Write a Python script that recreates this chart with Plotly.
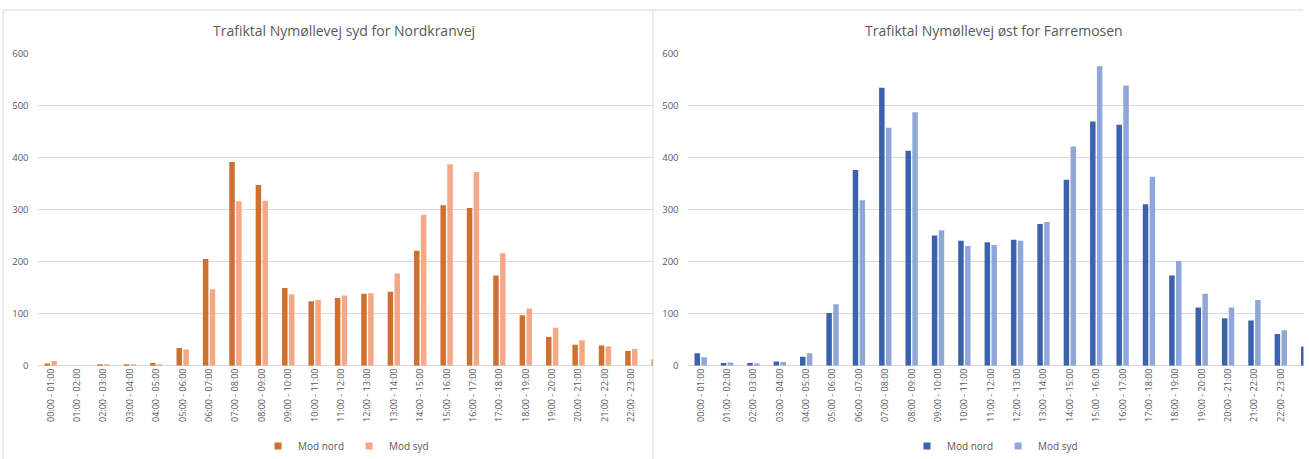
import plotly.graph_objects as go

# ---------------- data ----------------
hours = [
    "00:00 - 01:00", "01:00 - 02:00", "02:00 - 03:00", "03:00 - 04:00",
    "04:00 - 05:00", "05:00 - 06:00", "06:00 - 07:00", "07:00 - 08:00",
    "08:00 - 09:00", "09:00 - 10:00", "10:00 - 11:00", "11:00 - 12:00",
    "12:00 - 13:00", "13:00 - 14:00", "14:00 - 15:00", "15:00 - 16:00",
    "16:00 - 17:00", "17:00 - 18:00", "18:00 - 19:00", "19:00 - 20:00",
    "20:00 - 21:00", "21:00 - 22:00", "22:00 - 23:00", "23:00 - 24:00",
]

# Trafiktal Nymøllevej syd for Nordkranvej
left_nord = [4, 0, 2, 2, 5, 34, 205, 391, 347, 149, 124, 130,
             138, 142, 221, 308, 303, 173, 97, 55, 40, 39, 28, 12]
left_syd = [9, 0, 1, 1, 3, 31, 147, 316, 317, 137, 126, 135,
            139, 177, 290, 387, 372, 216, 110, 73, 49, 37, 32, 10]

# Trafiktal Nymøllevej øst for Farremosen
right_nord = [24, 5, 5, 8, 17, 101, 376, 534, 413, 250, 240, 237,
              242, 272, 357, 469, 463, 310, 173, 112, 91, 87, 61, 37]
right_syd = [16, 6, 4, 7, 24, 118, 318, 457, 487, 260, 230, 232,
             240, 276, 421, 575, 538, 363, 201, 138, 112, 126, 68, 40]

series_names = ["Mod nord", "Mod syd"]
titles = ["Trafiktal Nymøllevej syd for Nordkranvej",
          "Trafiktal Nymøllevej øst for Farremosen"]
y_ticks = [0, 100, 200, 300, 400, 500, 600]

# ---------------- styling ----------------
W, H = 1309, 459
FONT = "Open Sans"
TXT = "#595959"
GRID = "#D9D9D9"
c_left = ["#D0702E", "#F4A886"]
c_right = ["#3B63AD", "#8FA6D8"]


def px(x):
    return x / W


def py(y):
    return 1 - y / H


fig = go.Figure()

for vals, name, col in zip([left_nord, left_syd], series_names, c_left):
    fig.add_trace(go.Bar(x=hours, y=vals, name=name, marker_color=col,
                         marker_line_width=0, xaxis="x", yaxis="y",
                         showlegend=False))
    fig.add_trace(go.Scatter(x=[None], y=[None], mode="markers", name=name,
                             marker=dict(symbol="square", size=7, color=col),
                             xaxis="x", yaxis="y", legend="legend"))

for vals, name, col in zip([right_nord, right_syd], series_names, c_right):
    fig.add_trace(go.Bar(x=hours, y=vals, name=name, marker_color=col,
                         marker_line_width=0, xaxis="x2", yaxis="y2",
                         showlegend=False))
    fig.add_trace(go.Scatter(x=[None], y=[None], mode="markers", name=name,
                             marker=dict(symbol="square", size=7, color=col),
                             xaxis="x2", yaxis="y2", legend="legend2"))

ydom = [py(365.7), py(53.3)]
xaxis_common = dict(
    type="category", tickangle=-90, showgrid=False, zeroline=False,
    showline=False, ticks="", tickfont=dict(family=FONT, size=9, color=TXT),
    fixedrange=True, automargin=False,
)
yaxis_common = dict(
    range=[0, 600], tickvals=y_ticks, showgrid=True, gridcolor=GRID,
    gridwidth=1, zeroline=True, zerolinecolor=GRID, zerolinewidth=1,
    showline=False, ticks="", ticklabelstandoff=8, automargin=False,
    tickfont=dict(family=FONT, size=9.5, color=TXT), domain=ydom,
)

legend_common = dict(orientation="h", xanchor="center", y=py(446),
                     yanchor="middle", font=dict(family=FONT, size=10, color=TXT),
                     itemwidth=30, bgcolor="rgba(0,0,0,0)")

fig.update_layout(
    width=W, height=H,
    margin=dict(l=0, r=0, t=0, b=0, pad=0, autoexpand=False),
    paper_bgcolor="white", plot_bgcolor="white",
    barmode="group", bargap=0.48, bargroupgap=0.2,
    xaxis=dict(xaxis_common, domain=[px(37.5), px(653)], range=[-0.5, 22.82],
               anchor="y"),
    yaxis=dict(yaxis_common, anchor="x"),
    xaxis2=dict(xaxis_common, domain=[px(687.5), px(1303.5)],
                range=[-0.5, 22.86], anchor="y2"),
    yaxis2=dict(yaxis_common, anchor="x2"),
    legend=dict(legend_common, x=px(346)),
    legend2=dict(legend_common, x=px(995)),
    showlegend=True,
)

for t, xc in zip(titles, [343.5, 993.5]):
    fig.add_annotation(text=t, x=px(xc), y=py(30.5), xref="paper",
                       yref="paper", showarrow=False, xanchor="center",
                       yanchor="middle",
                       font=dict(family=FONT, size=14, color=TXT))

# chart-area frames
for x0, x1, y0, y1 in [(3, 1303, 10, 10), (3, 3, 10, 459), (653, 653, 10, 459)]:
    fig.add_shape(type="line", xref="paper", yref="paper",
                  x0=px(x0), x1=px(x1), y0=py(y0), y1=py(y1),
                  line=dict(color=GRID, width=1))

fig.write_html("out.html")
